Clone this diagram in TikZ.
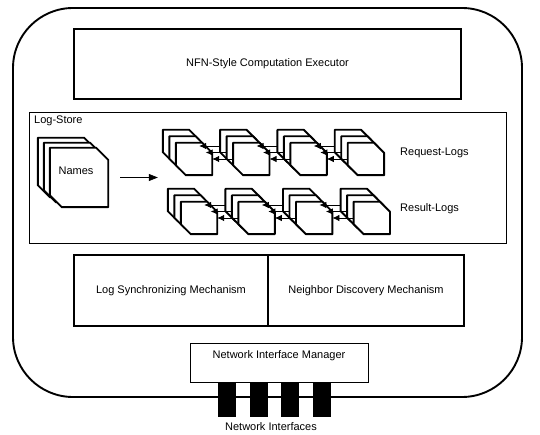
\documentclass[tikz,border=0pt]{standalone}
\usepackage{fontspec}
\setmainfont{Liberation Sans}
\usetikzlibrary{arrows.meta}
\begin{document}
\begin{tikzpicture}[x=10pt,y=10pt]
\tikzstyle{every node}+=[inner sep=0pt, font=\fontsize{11}{13}\selectfont]
\tikzstyle{heavybox}=[draw, line width=1.9pt]
\tikzstyle{lightbox}=[draw, line width=0.8pt]
\tikzstyle{sheet}=[append after command={\pgfextra{\draw [fill=white, line width=1.9pt, line join=round] (\tikzlastnode.north west) -- ([xshift=-#1]\tikzlastnode.north east) -- ([yshift=-#1]\tikzlastnode.north east) -- (\tikzlastnode.south east) -- ([xshift=#1]\tikzlastnode.south west) -- ([yshift=#1]\tikzlastnode.south west) -- cycle;}}]
\tikzstyle{logpage}=[sheet=10pt, minimum width=36pt, minimum height=32pt]
\tikzstyle{namepage}=[sheet=12pt, minimum width=58pt, minimum height=59pt]
\tikzstyle{link}=[-{Latex[length=7pt,width=6.5pt]}, line width=0.8pt]
\tikzstyle{port}=[fill=black, minimum width=18pt, minimum height=35pt]
\useasboundingbox (0,0) rectangle (54,-43.5);
% router frame and blocks
\node [heavybox, rounded corners=60pt, minimum width=509pt, minimum height=389pt] (router) at (26.75,-20.25) {};
\node [heavybox, minimum width=387pt, minimum height=70pt] (executor) at (26.75,-6.4) {NFN-Style Computation Executor};
\node [lightbox, minimum width=477pt, minimum height=131pt] (logstore) at (26.75,-17.75) {};
\node [anchor=west] (logstorelabel) at (3.4,-12.1) {Log-Store};
\node [heavybox, minimum width=194pt, minimum height=71pt] (logsync) at (17.1,-29.05) {Log Synchronizing Mechanism};
\node [heavybox, minimum width=196pt, minimum height=71pt] (discovery) at (36.6,-29.05) {Neighbor Discovery Mechanism};
\node [lightbox, fill=white, minimum width=178pt, minimum height=39pt, label={[anchor=north,yshift=-8pt]north:Network Interface Manager}] (manager) at (27.9,-36.25) {};
% interfaces
\node [port] (port1) at (22.7,-39.95) {};
\node [port] (port2) at (25.85,-39.95) {};
\node [port] (port3) at (29.0,-39.95) {};
\node [port] (port4) at (32.15,-39.95) {};
\node (interfaces) at (27.1,-42.7) {Network Interfaces};
% names
\node [namepage] (name1) at (6.7,-16.75) {};
\node [namepage] (name2) at (7.3,-17.25) {};
\node [namepage] (name3) at (7.9,-17.75) {};
\node (namestext) at (7.6,-17.1) {Names};
% request logs
\node [logpage] (req1a) at (18.1,-14.6) {};
\node [logpage] (req1b) at (18.75,-15.25) {};
\node [logpage] (req1c) at (19.4,-15.9) {};
\node [logpage] (req2a) at (23.83,-14.6) {};
\node [logpage] (req2b) at (24.48,-15.25) {};
\node [logpage] (req2c) at (25.13,-15.9) {};
\node [logpage] (req3a) at (29.56,-14.6) {};
\node [logpage] (req3b) at (30.21,-15.25) {};
\node [logpage] (req3c) at (30.86,-15.9) {};
\node [logpage] (req4a) at (35.29,-14.6) {};
\node [logpage] (req4b) at (35.94,-15.25) {};
\node [logpage] (req4c) at (36.59,-15.9) {};
\node [anchor=west] (reqlabel) at (40.0,-15.3) {Request-Logs};
% result logs
\node [logpage] (res1a) at (18.6,-20.5) {};
\node [logpage] (res1b) at (19.25,-21.15) {};
\node [logpage] (res1c) at (19.9,-21.8) {};
\node [logpage] (res2a) at (24.36,-20.5) {};
\node [logpage] (res2b) at (25.01,-21.15) {};
\node [logpage] (res2c) at (25.66,-21.8) {};
\node [logpage] (res3a) at (30.12,-20.5) {};
\node [logpage] (res3b) at (30.77,-21.15) {};
\node [logpage] (res3c) at (31.42,-21.8) {};
\node [logpage] (res4a) at (35.88,-20.5) {};
\node [logpage] (res4b) at (36.53,-21.15) {};
\node [logpage] (res4c) at (37.18,-21.8) {};
\node [anchor=west] (reslabel) at (40.0,-20.9) {Result-Logs};
% links
\draw [-{Triangle[length=9pt,width=7pt]}, line width=0.8pt] ([xshift=12pt]name3.east) -- ([xshift=-5pt]name3.east -| req1a.west);
\draw [link] (req2a.west) -- (req1a.east);
\draw [link] (req2b.west) -- (req1b.east);
\draw [link] (req2c.west) -- (req1c.east);
\draw [link] (req3a.west) -- (req2a.east);
\draw [link] (req3b.west) -- (req2b.east);
\draw [link] (req3c.west) -- (req2c.east);
\draw [link] (req4a.west) -- (req3a.east);
\draw [link] (req4b.west) -- (req3b.east);
\draw [link] (req4c.west) -- (req3c.east);
\draw [link] (res2a.west) -- (res1a.east);
\draw [link] (res2b.west) -- (res1b.east);
\draw [link] (res2c.west) -- (res1c.east);
\draw [link] (res3a.west) -- (res2a.east);
\draw [link] (res3b.west) -- (res2b.east);
\draw [link] (res3c.west) -- (res2c.east);
\draw [link] (res4a.west) -- (res3a.east);
\draw [link] (res4b.west) -- (res3b.east);
\draw [link] (res4c.west) -- (res3c.east);
\end{tikzpicture}
\end{document}
